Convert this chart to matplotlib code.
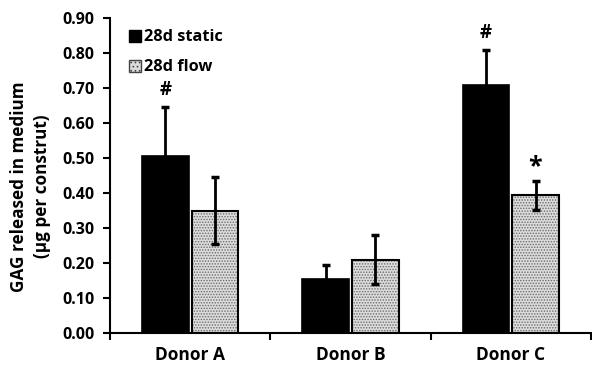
import matplotlib
matplotlib.use("Agg")
import matplotlib.pyplot as plt
import numpy as np
from matplotlib.patches import Patch

plt.rcParams['font.family'] = ['Open Sans', 'DejaVu Sans']
plt.rcParams['font.weight'] = 'bold'
plt.rcParams['hatch.linewidth'] = 0.7

# 데이터
donors = ['Donor A', 'Donor B', 'Donor C']
static_vals = [0.505, 0.155, 0.708]
static_err = [0.14, 0.04, 0.10]
flow_vals = [0.350, 0.209, 0.393]
flow_err = [0.095, 0.070, 0.042]
static_marks = ['#', '', '#']
flow_marks = ['', '', '*']

fig = plt.figure(figsize=(5.92, 3.66), dpi=100)
ax = fig.add_axes([0.186, 0.090, 0.812, 0.861])

x = np.arange(len(donors))
w = 0.29
gap = 0.01

ax.bar(x - w / 2 - gap, static_vals, w, color='black', edgecolor='black', linewidth=1.2, zorder=2)
ax.errorbar(x - w / 2 - gap, static_vals, yerr=static_err, fmt='none', ecolor='black',
            elinewidth=2, capsize=3, capthick=2.5, zorder=3)

# 점무늬 막대 (무늬 + 테두리 따로)
ax.bar(x + w / 2 + gap, flow_vals, w, color='#dcdcdc', edgecolor='#6a6a6a', hatch='......',
       linewidth=0, zorder=2)
ax.bar(x + w / 2 + gap, flow_vals, w, facecolor='none', edgecolor='black', linewidth=1.5, zorder=2)
ax.errorbar(x + w / 2 + gap, flow_vals, yerr=flow_err, fmt='none', ecolor='black',
            elinewidth=2, capsize=3, capthick=2.5, zorder=3)

for i in range(len(donors)):
    if static_marks[i]:
        ax.text(x[i] - w / 2 - gap, static_vals[i] + static_err[i] + 0.02, static_marks[i],
                ha='center', va='bottom', fontsize=13.5, fontweight='bold')
    if flow_marks[i]:
        ax.text(x[i] + w / 2 + gap, flow_vals[i] + flow_err[i] + 0.005, flow_marks[i],
                ha='center', va='bottom', fontsize=18, fontweight='bold')

ax.set_xlim(-0.5, 2.5)
ax.set_ylim(0, 0.9)
ax.set_yticks(np.arange(0, 0.91, 0.1))
ax.set_yticklabels(['%.2f' % v for v in np.arange(0, 0.91, 0.1)], fontsize=11.5, fontweight='bold')
ax.set_xticks(x)
ax.set_xticklabels(donors, fontsize=12.5, fontweight='bold')
ax.set_xticks([-0.5, 0.5, 1.5, 2.5], minor=True)
ax.tick_params(axis='x', which='major', length=0, pad=9)
ax.tick_params(axis='x', which='minor', length=5, width=1.5, direction='out')
ax.tick_params(axis='y', length=5, width=1.5, direction='out', pad=6)

for s in ['top', 'right']:
    ax.spines[s].set_visible(False)
for s in ['left', 'bottom']:
    ax.spines[s].set_linewidth(1.5)

ax.set_ylabel('GAG released in medium\n(µg per construt)', fontsize=12.3, fontweight='bold',
              linespacing=1.3)
ax.yaxis.set_label_coords(-0.124, 0.465)

handles = [Patch(facecolor='black', edgecolor='black'),
           Patch(facecolor='#dcdcdc', edgecolor='#444444', hatch='....')]
ax.legend(handles, ['28d static', '28d flow'], loc='upper left', bbox_to_anchor=(0.015, 1.0),
          frameon=False, fontsize=11.8, handlelength=0.75, handleheight=0.75, handletextpad=0.15,
          labelspacing=0.85, borderaxespad=0.3)

plt.savefig('out.png', dpi=100)
